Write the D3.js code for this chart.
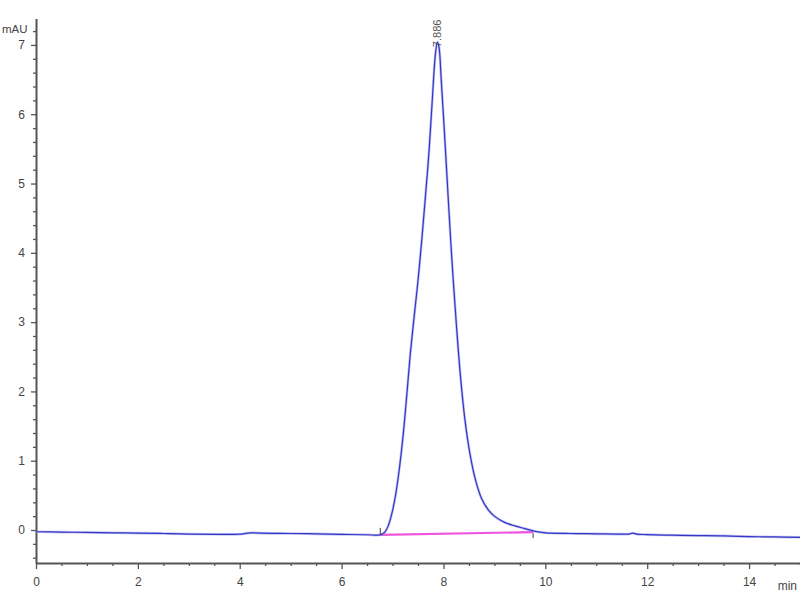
<!DOCTYPE html>
<html>
<head>
<meta charset="utf-8">
<script src="https://cdn.jsdelivr.net/npm/d3@7"></script>
<style>
html,body{margin:0;padding:0;background:#fff;}
svg{display:block;}
</style>
</head>
<body>
<svg id="chart" width="800" height="600"></svg>
<script>
// ---- data ----
const times = [0,0.5,1,1.5,2,2.5,3,3.5,4,4.15,4.25,4.4,5,5.5,6,6.5,6.76,6.85,6.92,7.0,7.07,7.14,7.21,7.28,7.35,7.42,7.5,7.57,7.64,7.72,7.78,7.84,7.88,7.91,7.96,8.03,8.1,8.17,8.25,8.33,8.42,8.52,8.63,8.75,8.88,9.0,9.2,9.4,9.6,9.8,10.0,10.5,11,11.5,11.65,11.72,11.8,12,12.5,13,13.5,14,14.5,15];
const signal = [-0.025,-0.03,-0.035,-0.04,-0.045,-0.05,-0.058,-0.062,-0.06,-0.045,-0.04,-0.045,-0.05,-0.055,-0.063,-0.068,-0.07,-0.03,0.07,0.28,0.55,0.92,1.38,1.95,2.55,3.05,3.6,4.15,4.76,5.5,6.2,6.85,7.04,6.98,6.45,5.6,4.7,3.85,3.0,2.25,1.6,1.1,0.72,0.45,0.29,0.2,0.11,0.06,0.02,-0.02,-0.04,-0.05,-0.055,-0.06,-0.058,-0.045,-0.06,-0.066,-0.075,-0.08,-0.085,-0.095,-0.1,-0.105];
const baselineT = [6.76, 9.76];
const baselineV = [-0.07, -0.03];
const peakLabel = "7.886";
const peakTime = 7.88, peakValue = 7.04;
const xMajor = [0,2,4,6,8,10,12,14];
const yMajor = [0,1,2,3,4,5,6,7];
const xUnit = "min", yUnit = "mAU";

// ---- chart ----
const svg = d3.select("#chart");
const x = d3.scaleLinear().domain([0,15]).range([36,800]);
const y = d3.scaleLinear().domain([-0.476,7.38]).range([563,18.6]);
const axisColor = "#555", textColor = "#444";
const font = "'Liberation Sans', Arial, sans-serif";

const xMinor = d3.range(0,15.01,0.5).filter(v => Math.abs(v/2-Math.round(v/2))>1e-6);
const yMinor = d3.range(-0.4,7.21,0.2).filter(v => Math.abs(v-Math.round(v))>1e-6);

// x axis
const gx = svg.append("g").attr("transform","translate(0,563)");
gx.call(d3.axisBottom(x).tickValues(xMinor).tickSize(3).tickFormat(""));
gx.call(g => g.selectAll(".domain").remove());
const gx2 = svg.append("g").attr("transform","translate(0,563)")
  .call(d3.axisBottom(x).tickValues(xMajor).tickSize(6).tickSizeOuter(0).tickPadding(8).tickFormat(d3.format("d")));
[gx,gx2].forEach(g=>{
  g.selectAll("line").attr("stroke",axisColor).attr("stroke-width",1.3);
  g.selectAll(".domain").attr("stroke",axisColor).attr("stroke-width",2);
  g.selectAll("text").attr("fill",textColor).attr("font-family",font).attr("font-size",12);
});

// y axis
const gy = svg.append("g").attr("transform","translate(36,0)");
gy.call(d3.axisLeft(y).tickValues(yMinor).tickSize(3).tickFormat(""));
gy.call(g => g.selectAll(".domain").remove());
const gy2 = svg.append("g").attr("transform","translate(36,0)")
  .call(d3.axisLeft(y).tickValues(yMajor).tickSize(5).tickSizeOuter(0).tickPadding(6).tickFormat(d3.format("d")));
[gy,gy2].forEach(g=>{
  g.selectAll("line").attr("stroke",axisColor).attr("stroke-width",1.3);
  g.selectAll(".domain").attr("stroke",axisColor).attr("stroke-width",2);
  g.selectAll("text").attr("fill",textColor).attr("font-family",font).attr("font-size",12);
});

// units
svg.append("text").attr("x",2).attr("y",33).text(yUnit)
  .attr("fill",textColor).attr("font-family",font).attr("font-size",11.5);
svg.append("text").attr("x",797).attr("y",590).attr("text-anchor","end").text(xUnit)
  .attr("fill",textColor).attr("font-family",font).attr("font-size",12);

// integration baseline
const pts = times.map((t,i)=>[t,signal[i]]);
svg.append("path")
  .datum(baselineT.map((t,i)=>[t,baselineV[i]]))
  .attr("d", d3.line().x(d=>x(d[0])).y(d=>y(d[1])))
  .attr("stroke","#ee55dd").attr("stroke-width",2.2).attr("fill","none");

// signal
const lineGen = d3.line().x(d=>x(d[0])).y(d=>y(d[1])).curve(d3.curveCatmullRom.alpha(0.5));
svg.append("path")
  .datum(pts).attr("d", lineGen)
  .attr("stroke","#9a9ae8").attr("stroke-width",2.6).attr("fill","none").attr("opacity",0.6);
svg.append("path")
  .datum(pts).attr("d", lineGen)
  .attr("stroke","#3535c8").attr("stroke-width",1.2).attr("fill","none");

// start / end markers
svg.append("line").attr("x1",x(baselineT[0])).attr("x2",x(baselineT[0]))
  .attr("y1",y(baselineV[0])).attr("y2",y(baselineV[0])-7).attr("stroke","#444").attr("stroke-width",1);
svg.append("line").attr("x1",x(baselineT[1])).attr("x2",x(baselineT[1]))
  .attr("y1",y(baselineV[1])+1).attr("y2",y(baselineV[1])+6).attr("stroke","#444").attr("stroke-width",1);

// peak label
svg.append("text")
  .attr("transform",`translate(${x(peakTime)+4},${y(peakValue)+5}) rotate(-90)`)
  .text(peakLabel).attr("fill","#555").attr("font-family",font).attr("font-size",11);
</script>
</body>
</html>
